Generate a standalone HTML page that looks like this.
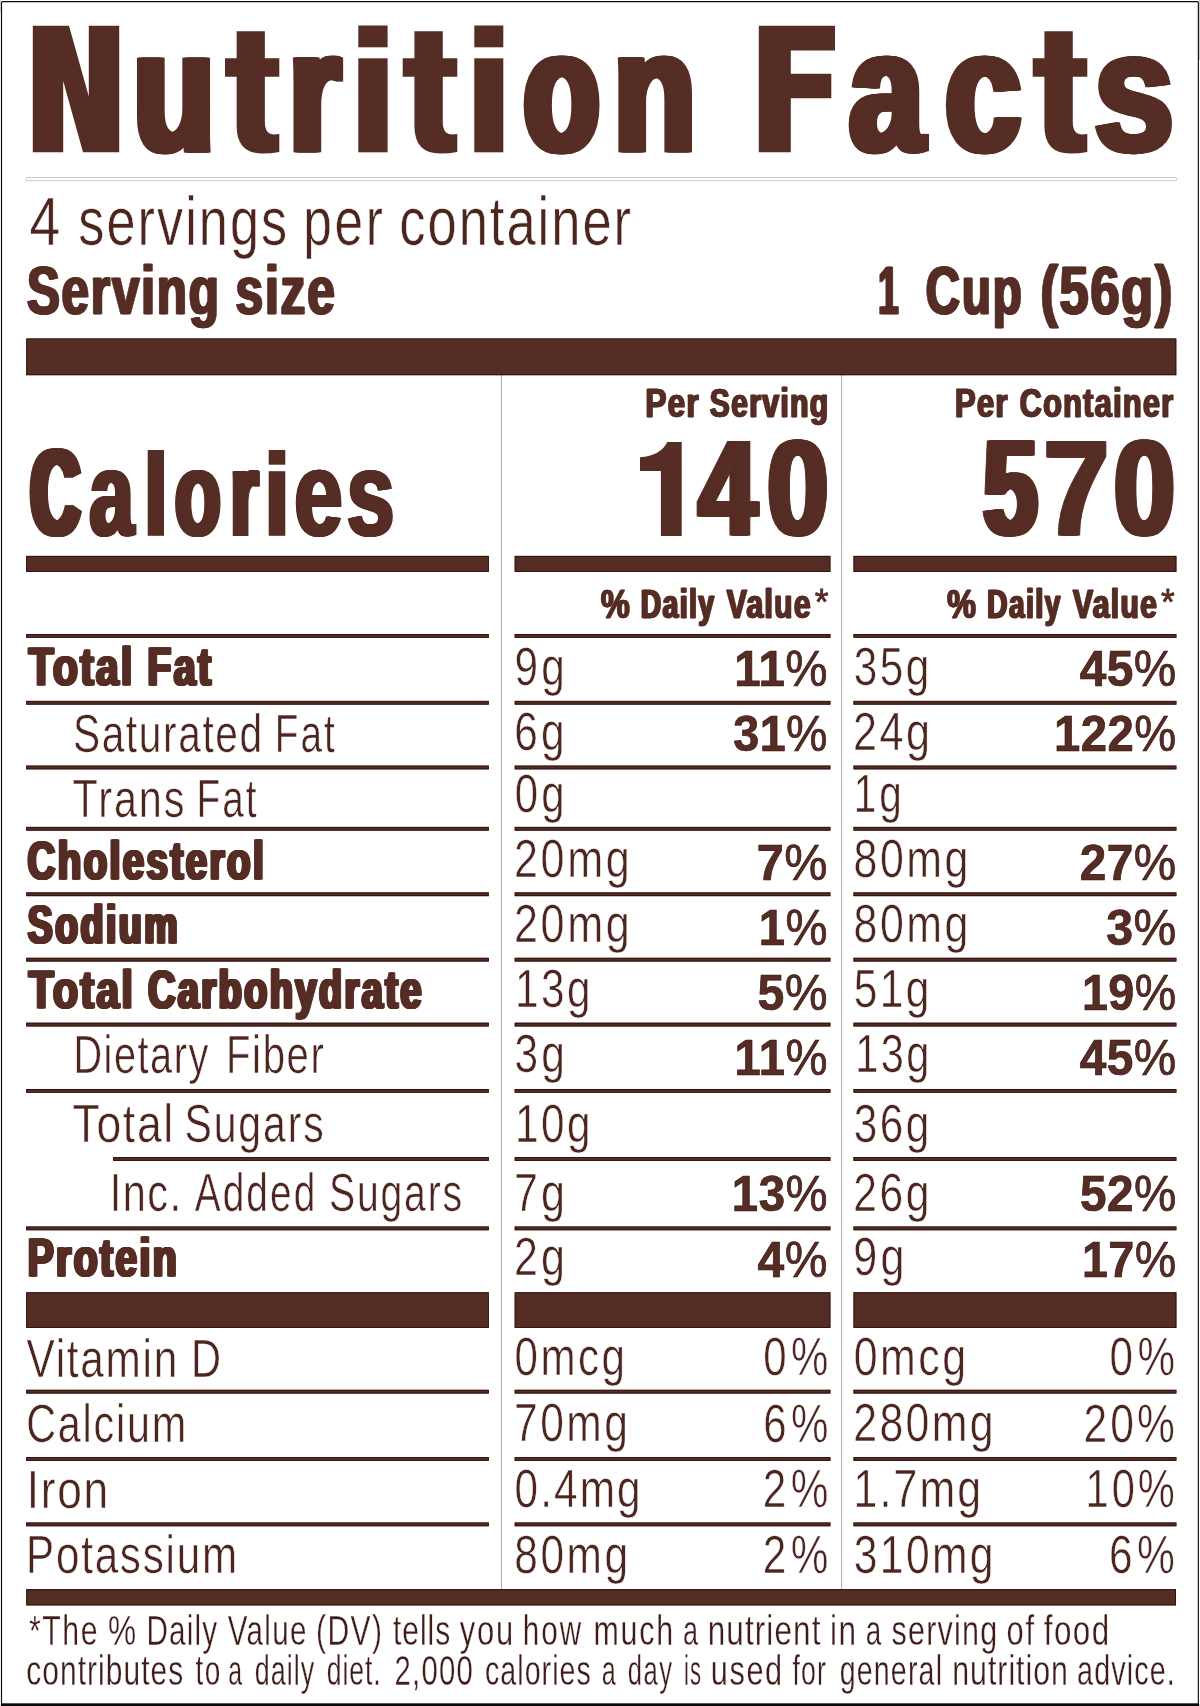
<!DOCTYPE html>
<html><head><meta charset="utf-8"><title>Nutrition Facts</title>
<style>
svg{will-change:transform;}
html,body{margin:0;padding:0;background:#fff;}
body{width:1200px;height:1706px;overflow:hidden;}
svg{display:block;}
text{font-family:"Liberation Sans",sans-serif;fill:#552d24;white-space:pre;}
</style></head><body>
<svg width="1200" height="1706" viewBox="0 0 1200 1706">
<rect x="0" y="0" width="1200" height="1706" fill="#fff"/>
<rect x="1199" y="0" width="1" height="60" fill="#c9c9c9"/>
<rect x="0" y="0" width="1" height="12" fill="#d8d8d8"/>
<rect x="1.5" y="1.55" width="1196.85" height="1702.6" rx="1" fill="none" stroke="#0a0a0a" stroke-width="1.15"/>
<rect x="0.90" y="1703.60" width="1198.30" height="2.40" fill="#0a0a0a"/>
<rect x="25.8" y="177.5" width="1151" height="3.2" rx="1" fill="#fff" stroke="#bcbcbc" stroke-width="0.8"/>
<rect x="501.00" y="375.00" width="0.85" height="1214.30" fill="#a0a0a0"/>
<rect x="841.25" y="375.00" width="0.85" height="1214.30" fill="#a0a0a0"/>
<rect x="26.25" y="338.50" width="1150.05" height="36.70" fill="#552d24"/>
<rect x="26.70" y="338.95" width="1149.15" height="35.80" fill="none" stroke="#2e0f0c" stroke-width="0.9"/>
<rect x="26.20" y="555.90" width="462.60" height="16.00" fill="#552d24"/>
<rect x="26.65" y="556.35" width="461.70" height="15.10" fill="none" stroke="#2e0f0c" stroke-width="0.9"/>
<rect x="514.70" y="555.90" width="315.70" height="16.00" fill="#552d24"/>
<rect x="515.15" y="556.35" width="314.80" height="15.10" fill="none" stroke="#2e0f0c" stroke-width="0.9"/>
<rect x="853.50" y="555.90" width="322.90" height="16.00" fill="#552d24"/>
<rect x="853.95" y="556.35" width="322.00" height="15.10" fill="none" stroke="#2e0f0c" stroke-width="0.9"/>
<rect x="26.20" y="634.00" width="462.60" height="3.75" fill="#552d24"/>
<rect x="26.65" y="634.45" width="461.70" height="2.85" fill="none" stroke="#2e0f0c" stroke-width="0.9"/>
<rect x="514.70" y="634.00" width="315.70" height="3.75" fill="#552d24"/>
<rect x="515.15" y="634.45" width="314.80" height="2.85" fill="none" stroke="#2e0f0c" stroke-width="0.9"/>
<rect x="853.50" y="634.00" width="322.90" height="3.75" fill="#552d24"/>
<rect x="853.95" y="634.45" width="322.00" height="2.85" fill="none" stroke="#2e0f0c" stroke-width="0.9"/>
<rect x="26.20" y="700.90" width="462.60" height="3.75" fill="#552d24"/>
<rect x="26.65" y="701.35" width="461.70" height="2.85" fill="none" stroke="#2e0f0c" stroke-width="0.9"/>
<rect x="514.70" y="700.90" width="315.70" height="3.75" fill="#552d24"/>
<rect x="515.15" y="701.35" width="314.80" height="2.85" fill="none" stroke="#2e0f0c" stroke-width="0.9"/>
<rect x="853.50" y="700.90" width="322.90" height="3.75" fill="#552d24"/>
<rect x="853.95" y="701.35" width="322.00" height="2.85" fill="none" stroke="#2e0f0c" stroke-width="0.9"/>
<rect x="26.20" y="765.60" width="462.60" height="3.75" fill="#552d24"/>
<rect x="26.65" y="766.05" width="461.70" height="2.85" fill="none" stroke="#2e0f0c" stroke-width="0.9"/>
<rect x="514.70" y="765.60" width="315.70" height="3.75" fill="#552d24"/>
<rect x="515.15" y="766.05" width="314.80" height="2.85" fill="none" stroke="#2e0f0c" stroke-width="0.9"/>
<rect x="853.50" y="765.60" width="322.90" height="3.75" fill="#552d24"/>
<rect x="853.95" y="766.05" width="322.00" height="2.85" fill="none" stroke="#2e0f0c" stroke-width="0.9"/>
<rect x="26.20" y="826.90" width="462.60" height="3.75" fill="#552d24"/>
<rect x="26.65" y="827.35" width="461.70" height="2.85" fill="none" stroke="#2e0f0c" stroke-width="0.9"/>
<rect x="514.70" y="826.90" width="315.70" height="3.75" fill="#552d24"/>
<rect x="515.15" y="827.35" width="314.80" height="2.85" fill="none" stroke="#2e0f0c" stroke-width="0.9"/>
<rect x="853.50" y="826.90" width="322.90" height="3.75" fill="#552d24"/>
<rect x="853.95" y="827.35" width="322.00" height="2.85" fill="none" stroke="#2e0f0c" stroke-width="0.9"/>
<rect x="26.20" y="892.40" width="462.60" height="3.75" fill="#552d24"/>
<rect x="26.65" y="892.85" width="461.70" height="2.85" fill="none" stroke="#2e0f0c" stroke-width="0.9"/>
<rect x="514.70" y="892.40" width="315.70" height="3.75" fill="#552d24"/>
<rect x="515.15" y="892.85" width="314.80" height="2.85" fill="none" stroke="#2e0f0c" stroke-width="0.9"/>
<rect x="853.50" y="892.40" width="322.90" height="3.75" fill="#552d24"/>
<rect x="853.95" y="892.85" width="322.00" height="2.85" fill="none" stroke="#2e0f0c" stroke-width="0.9"/>
<rect x="26.20" y="957.80" width="462.60" height="3.75" fill="#552d24"/>
<rect x="26.65" y="958.25" width="461.70" height="2.85" fill="none" stroke="#2e0f0c" stroke-width="0.9"/>
<rect x="514.70" y="957.80" width="315.70" height="3.75" fill="#552d24"/>
<rect x="515.15" y="958.25" width="314.80" height="2.85" fill="none" stroke="#2e0f0c" stroke-width="0.9"/>
<rect x="853.50" y="957.80" width="322.90" height="3.75" fill="#552d24"/>
<rect x="853.95" y="958.25" width="322.00" height="2.85" fill="none" stroke="#2e0f0c" stroke-width="0.9"/>
<rect x="26.20" y="1022.70" width="462.60" height="3.75" fill="#552d24"/>
<rect x="26.65" y="1023.15" width="461.70" height="2.85" fill="none" stroke="#2e0f0c" stroke-width="0.9"/>
<rect x="514.70" y="1022.70" width="315.70" height="3.75" fill="#552d24"/>
<rect x="515.15" y="1023.15" width="314.80" height="2.85" fill="none" stroke="#2e0f0c" stroke-width="0.9"/>
<rect x="853.50" y="1022.70" width="322.90" height="3.75" fill="#552d24"/>
<rect x="853.95" y="1023.15" width="322.00" height="2.85" fill="none" stroke="#2e0f0c" stroke-width="0.9"/>
<rect x="26.20" y="1089.00" width="462.60" height="3.75" fill="#552d24"/>
<rect x="26.65" y="1089.45" width="461.70" height="2.85" fill="none" stroke="#2e0f0c" stroke-width="0.9"/>
<rect x="514.70" y="1089.00" width="315.70" height="3.75" fill="#552d24"/>
<rect x="515.15" y="1089.45" width="314.80" height="2.85" fill="none" stroke="#2e0f0c" stroke-width="0.9"/>
<rect x="853.50" y="1089.00" width="322.90" height="3.75" fill="#552d24"/>
<rect x="853.95" y="1089.45" width="322.00" height="2.85" fill="none" stroke="#2e0f0c" stroke-width="0.9"/>
<rect x="113.10" y="1157.10" width="375.70" height="3.75" fill="#552d24"/>
<rect x="113.55" y="1157.55" width="374.80" height="2.85" fill="none" stroke="#2e0f0c" stroke-width="0.9"/>
<rect x="514.70" y="1157.10" width="315.70" height="3.75" fill="#552d24"/>
<rect x="515.15" y="1157.55" width="314.80" height="2.85" fill="none" stroke="#2e0f0c" stroke-width="0.9"/>
<rect x="853.50" y="1157.10" width="322.90" height="3.75" fill="#552d24"/>
<rect x="853.95" y="1157.55" width="322.00" height="2.85" fill="none" stroke="#2e0f0c" stroke-width="0.9"/>
<rect x="26.20" y="1226.50" width="462.60" height="3.75" fill="#552d24"/>
<rect x="26.65" y="1226.95" width="461.70" height="2.85" fill="none" stroke="#2e0f0c" stroke-width="0.9"/>
<rect x="514.70" y="1226.50" width="315.70" height="3.75" fill="#552d24"/>
<rect x="515.15" y="1226.95" width="314.80" height="2.85" fill="none" stroke="#2e0f0c" stroke-width="0.9"/>
<rect x="853.50" y="1226.50" width="322.90" height="3.75" fill="#552d24"/>
<rect x="853.95" y="1226.95" width="322.00" height="2.85" fill="none" stroke="#2e0f0c" stroke-width="0.9"/>
<rect x="26.20" y="1389.80" width="462.60" height="3.75" fill="#552d24"/>
<rect x="26.65" y="1390.25" width="461.70" height="2.85" fill="none" stroke="#2e0f0c" stroke-width="0.9"/>
<rect x="514.70" y="1389.80" width="315.70" height="3.75" fill="#552d24"/>
<rect x="515.15" y="1390.25" width="314.80" height="2.85" fill="none" stroke="#2e0f0c" stroke-width="0.9"/>
<rect x="853.50" y="1389.80" width="322.90" height="3.75" fill="#552d24"/>
<rect x="853.95" y="1390.25" width="322.00" height="2.85" fill="none" stroke="#2e0f0c" stroke-width="0.9"/>
<rect x="26.20" y="1457.10" width="462.60" height="3.75" fill="#552d24"/>
<rect x="26.65" y="1457.55" width="461.70" height="2.85" fill="none" stroke="#2e0f0c" stroke-width="0.9"/>
<rect x="514.70" y="1457.10" width="315.70" height="3.75" fill="#552d24"/>
<rect x="515.15" y="1457.55" width="314.80" height="2.85" fill="none" stroke="#2e0f0c" stroke-width="0.9"/>
<rect x="853.50" y="1457.10" width="322.90" height="3.75" fill="#552d24"/>
<rect x="853.95" y="1457.55" width="322.00" height="2.85" fill="none" stroke="#2e0f0c" stroke-width="0.9"/>
<rect x="26.20" y="1522.50" width="462.60" height="3.75" fill="#552d24"/>
<rect x="26.65" y="1522.95" width="461.70" height="2.85" fill="none" stroke="#2e0f0c" stroke-width="0.9"/>
<rect x="514.70" y="1522.50" width="315.70" height="3.75" fill="#552d24"/>
<rect x="515.15" y="1522.95" width="314.80" height="2.85" fill="none" stroke="#2e0f0c" stroke-width="0.9"/>
<rect x="853.50" y="1522.50" width="322.90" height="3.75" fill="#552d24"/>
<rect x="853.95" y="1522.95" width="322.00" height="2.85" fill="none" stroke="#2e0f0c" stroke-width="0.9"/>
<rect x="26.20" y="1292.30" width="462.60" height="35.60" fill="#552d24"/>
<rect x="26.65" y="1292.75" width="461.70" height="34.70" fill="none" stroke="#2e0f0c" stroke-width="0.9"/>
<rect x="514.70" y="1292.30" width="315.70" height="35.60" fill="#552d24"/>
<rect x="515.15" y="1292.75" width="314.80" height="34.70" fill="none" stroke="#2e0f0c" stroke-width="0.9"/>
<rect x="853.50" y="1292.30" width="322.90" height="35.60" fill="#552d24"/>
<rect x="853.95" y="1292.75" width="322.00" height="34.70" fill="none" stroke="#2e0f0c" stroke-width="0.9"/>
<rect x="26.25" y="1589.20" width="1149.75" height="16.20" fill="#552d24"/>
<rect x="26.70" y="1589.65" width="1148.85" height="15.30" fill="none" stroke="#2e0f0c" stroke-width="0.9"/>
<path d="M640,457.3 Q661,455.5 667.3,442 L681.7,442 L681.7,535.9 L660.9,535.9 L660.9,470.9 L640,470.9 Z" fill="#552d24"/>
<path transform="translate(225.00,31.20) scale(0.9963,1.0000)" d="M11.7,0 H40 V27.1 H54.5 V45.5 H40 V90.8 Q40,103.3 49.5,103.3 L54.5,102.8 V120.8 Q46.5,122.3 37.5,122.3 Q11.7,122.3 11.7,94.8 V45.5 H0 V27.1 H11.7 Z" fill="#552d24"/>
<rect x="358.30" y="58.30" width="29.30" height="94.00" fill="#552d24"/>
<rect x="358.30" y="25.50" width="29.30" height="21.80" fill="#552d24"/>
<path transform="translate(402.70,31.20) scale(1.0018,1.0000)" d="M11.7,0 H40 V27.1 H54.5 V45.5 H40 V90.8 Q40,103.3 49.5,103.3 L54.5,102.8 V120.8 Q46.5,122.3 37.5,122.3 Q11.7,122.3 11.7,94.8 V45.5 H0 V27.1 H11.7 Z" fill="#552d24"/>
<rect x="474.30" y="58.30" width="29.00" height="94.00" fill="#552d24"/>
<rect x="474.30" y="25.50" width="29.00" height="21.80" fill="#552d24"/>
<path transform="translate(1032.70,31.20) scale(1.0018,1.0000)" d="M11.7,0 H40 V27.1 H54.5 V45.5 H40 V90.8 Q40,103.3 49.5,103.3 L54.5,102.8 V120.8 Q46.5,122.3 37.5,122.3 Q11.7,122.3 11.7,94.8 V45.5 H0 V27.1 H11.7 Z" fill="#552d24"/>
<path d="M32.8,152.3 V25.7 H69 L88.8,96.5 V25.7 H119.2 V152.3 H83 L63.2,81 V152.3 Z" fill="#552d24"/>
<path d="M758.8,152.3 V25.8 H835 V50.5 H790.8 V73.8 H831.3 V98.3 H790.8 V152.3 Z" fill="#552d24"/>
<rect x="147.70" y="450.00" width="16.30" height="85.80" fill="#552d24"/>
<rect x="268.70" y="471.20" width="16.60" height="64.60" fill="#552d24"/>
<rect x="268.70" y="450.00" width="16.60" height="14.70" fill="#552d24"/>
<text transform="translate(130.47,150.30) scale(0.7788,1)" font-weight="bold" font-size="170.35" stroke="#552d24" stroke-width="4" vector-effect="non-scaling-stroke" stroke-linejoin="miter">u</text>
<text transform="translate(131.46,150.30) scale(0.7788,1)" font-weight="bold" font-size="170.35" stroke="#552d24" stroke-width="4" vector-effect="non-scaling-stroke" stroke-linejoin="miter">u</text>
<text transform="translate(132.45,150.30) scale(0.7788,1)" font-weight="bold" font-size="170.35" stroke="#552d24" stroke-width="4" vector-effect="non-scaling-stroke" stroke-linejoin="miter">u</text>
<text transform="translate(133.44,150.30) scale(0.7788,1)" font-weight="bold" font-size="170.35" stroke="#552d24" stroke-width="4" vector-effect="non-scaling-stroke" stroke-linejoin="miter">u</text>
<text transform="translate(134.42,150.30) scale(0.7788,1)" font-weight="bold" font-size="170.35" stroke="#552d24" stroke-width="4" vector-effect="non-scaling-stroke" stroke-linejoin="miter">u</text>
<text transform="translate(135.41,150.30) scale(0.7788,1)" font-weight="bold" font-size="170.35" stroke="#552d24" stroke-width="4" vector-effect="non-scaling-stroke" stroke-linejoin="miter">u</text>
<text transform="translate(136.40,150.30) scale(0.7788,1)" font-weight="bold" font-size="170.35" stroke="#552d24" stroke-width="4" vector-effect="non-scaling-stroke" stroke-linejoin="miter">u</text>
<text transform="translate(286.03,150.30) scale(0.7716,1)" font-weight="bold" font-size="170.35" stroke="#552d24" stroke-width="4" vector-effect="non-scaling-stroke" stroke-linejoin="miter">r</text>
<text transform="translate(287.05,150.30) scale(0.7716,1)" font-weight="bold" font-size="170.35" stroke="#552d24" stroke-width="4" vector-effect="non-scaling-stroke" stroke-linejoin="miter">r</text>
<text transform="translate(288.07,150.30) scale(0.7716,1)" font-weight="bold" font-size="170.35" stroke="#552d24" stroke-width="4" vector-effect="non-scaling-stroke" stroke-linejoin="miter">r</text>
<text transform="translate(289.08,150.30) scale(0.7716,1)" font-weight="bold" font-size="170.35" stroke="#552d24" stroke-width="4" vector-effect="non-scaling-stroke" stroke-linejoin="miter">r</text>
<text transform="translate(290.10,150.30) scale(0.7716,1)" font-weight="bold" font-size="170.35" stroke="#552d24" stroke-width="4" vector-effect="non-scaling-stroke" stroke-linejoin="miter">r</text>
<text transform="translate(291.12,150.30) scale(0.7716,1)" font-weight="bold" font-size="170.35" stroke="#552d24" stroke-width="4" vector-effect="non-scaling-stroke" stroke-linejoin="miter">r</text>
<text transform="translate(292.13,150.30) scale(0.7716,1)" font-weight="bold" font-size="170.35" stroke="#552d24" stroke-width="4" vector-effect="non-scaling-stroke" stroke-linejoin="miter">r</text>
<text transform="translate(520.51,150.30) scale(0.7204,1)" font-weight="bold" font-size="170.35" stroke="#552d24" stroke-width="4" vector-effect="non-scaling-stroke" stroke-linejoin="miter">o</text>
<text transform="translate(521.42,150.30) scale(0.7204,1)" font-weight="bold" font-size="170.35" stroke="#552d24" stroke-width="4" vector-effect="non-scaling-stroke" stroke-linejoin="miter">o</text>
<text transform="translate(522.34,150.30) scale(0.7204,1)" font-weight="bold" font-size="170.35" stroke="#552d24" stroke-width="4" vector-effect="non-scaling-stroke" stroke-linejoin="miter">o</text>
<text transform="translate(523.25,150.30) scale(0.7204,1)" font-weight="bold" font-size="170.35" stroke="#552d24" stroke-width="4" vector-effect="non-scaling-stroke" stroke-linejoin="miter">o</text>
<text transform="translate(524.17,150.30) scale(0.7204,1)" font-weight="bold" font-size="170.35" stroke="#552d24" stroke-width="4" vector-effect="non-scaling-stroke" stroke-linejoin="miter">o</text>
<text transform="translate(525.08,150.30) scale(0.7204,1)" font-weight="bold" font-size="170.35" stroke="#552d24" stroke-width="4" vector-effect="non-scaling-stroke" stroke-linejoin="miter">o</text>
<text transform="translate(525.99,150.30) scale(0.7204,1)" font-weight="bold" font-size="170.35" stroke="#552d24" stroke-width="4" vector-effect="non-scaling-stroke" stroke-linejoin="miter">o</text>
<text transform="translate(526.91,150.30) scale(0.7204,1)" font-weight="bold" font-size="170.35" stroke="#552d24" stroke-width="4" vector-effect="non-scaling-stroke" stroke-linejoin="miter">o</text>
<text transform="translate(527.82,150.30) scale(0.7204,1)" font-weight="bold" font-size="170.35" stroke="#552d24" stroke-width="4" vector-effect="non-scaling-stroke" stroke-linejoin="miter">o</text>
<text transform="translate(610.84,150.30) scale(0.7891,1)" font-weight="bold" font-size="170.35" stroke="#552d24" stroke-width="4" vector-effect="non-scaling-stroke" stroke-linejoin="miter">n</text>
<text transform="translate(611.79,150.30) scale(0.7891,1)" font-weight="bold" font-size="170.35" stroke="#552d24" stroke-width="4" vector-effect="non-scaling-stroke" stroke-linejoin="miter">n</text>
<text transform="translate(612.73,150.30) scale(0.7891,1)" font-weight="bold" font-size="170.35" stroke="#552d24" stroke-width="4" vector-effect="non-scaling-stroke" stroke-linejoin="miter">n</text>
<text transform="translate(613.68,150.30) scale(0.7891,1)" font-weight="bold" font-size="170.35" stroke="#552d24" stroke-width="4" vector-effect="non-scaling-stroke" stroke-linejoin="miter">n</text>
<text transform="translate(614.63,150.30) scale(0.7891,1)" font-weight="bold" font-size="170.35" stroke="#552d24" stroke-width="4" vector-effect="non-scaling-stroke" stroke-linejoin="miter">n</text>
<text transform="translate(615.57,150.30) scale(0.7891,1)" font-weight="bold" font-size="170.35" stroke="#552d24" stroke-width="4" vector-effect="non-scaling-stroke" stroke-linejoin="miter">n</text>
<text transform="translate(616.52,150.30) scale(0.7891,1)" font-weight="bold" font-size="170.35" stroke="#552d24" stroke-width="4" vector-effect="non-scaling-stroke" stroke-linejoin="miter">n</text>
<text transform="translate(846.39,150.30) scale(0.7837,1)" font-weight="bold" font-size="170.35" stroke="#552d24" stroke-width="4" vector-effect="non-scaling-stroke" stroke-linejoin="miter">a</text>
<text transform="translate(847.36,150.30) scale(0.7837,1)" font-weight="bold" font-size="170.35" stroke="#552d24" stroke-width="4" vector-effect="non-scaling-stroke" stroke-linejoin="miter">a</text>
<text transform="translate(848.33,150.30) scale(0.7837,1)" font-weight="bold" font-size="170.35" stroke="#552d24" stroke-width="4" vector-effect="non-scaling-stroke" stroke-linejoin="miter">a</text>
<text transform="translate(849.29,150.30) scale(0.7837,1)" font-weight="bold" font-size="170.35" stroke="#552d24" stroke-width="4" vector-effect="non-scaling-stroke" stroke-linejoin="miter">a</text>
<text transform="translate(850.26,150.30) scale(0.7837,1)" font-weight="bold" font-size="170.35" stroke="#552d24" stroke-width="4" vector-effect="non-scaling-stroke" stroke-linejoin="miter">a</text>
<text transform="translate(851.23,150.30) scale(0.7837,1)" font-weight="bold" font-size="170.35" stroke="#552d24" stroke-width="4" vector-effect="non-scaling-stroke" stroke-linejoin="miter">a</text>
<text transform="translate(852.20,150.30) scale(0.7837,1)" font-weight="bold" font-size="170.35" stroke="#552d24" stroke-width="4" vector-effect="non-scaling-stroke" stroke-linejoin="miter">a</text>
<text transform="translate(942.37,150.30) scale(0.8016,1)" font-weight="bold" font-size="170.35" stroke="#552d24" stroke-width="4" vector-effect="non-scaling-stroke" stroke-linejoin="miter">c</text>
<text transform="translate(943.26,150.30) scale(0.8016,1)" font-weight="bold" font-size="170.35" stroke="#552d24" stroke-width="4" vector-effect="non-scaling-stroke" stroke-linejoin="miter">c</text>
<text transform="translate(944.16,150.30) scale(0.8016,1)" font-weight="bold" font-size="170.35" stroke="#552d24" stroke-width="4" vector-effect="non-scaling-stroke" stroke-linejoin="miter">c</text>
<text transform="translate(945.06,150.30) scale(0.8016,1)" font-weight="bold" font-size="170.35" stroke="#552d24" stroke-width="4" vector-effect="non-scaling-stroke" stroke-linejoin="miter">c</text>
<text transform="translate(945.95,150.30) scale(0.8016,1)" font-weight="bold" font-size="170.35" stroke="#552d24" stroke-width="4" vector-effect="non-scaling-stroke" stroke-linejoin="miter">c</text>
<text transform="translate(946.85,150.30) scale(0.8016,1)" font-weight="bold" font-size="170.35" stroke="#552d24" stroke-width="4" vector-effect="non-scaling-stroke" stroke-linejoin="miter">c</text>
<text transform="translate(947.75,150.30) scale(0.8016,1)" font-weight="bold" font-size="170.35" stroke="#552d24" stroke-width="4" vector-effect="non-scaling-stroke" stroke-linejoin="miter">c</text>
<text transform="translate(1091.95,150.30) scale(0.8425,1)" font-weight="bold" font-size="170.35" stroke="#552d24" stroke-width="4" vector-effect="non-scaling-stroke" stroke-linejoin="miter">s</text>
<text transform="translate(1093.06,150.30) scale(0.8425,1)" font-weight="bold" font-size="170.35" stroke="#552d24" stroke-width="4" vector-effect="non-scaling-stroke" stroke-linejoin="miter">s</text>
<text transform="translate(1094.16,150.30) scale(0.8425,1)" font-weight="bold" font-size="170.35" stroke="#552d24" stroke-width="4" vector-effect="non-scaling-stroke" stroke-linejoin="miter">s</text>
<text transform="translate(1095.26,150.30) scale(0.8425,1)" font-weight="bold" font-size="170.35" stroke="#552d24" stroke-width="4" vector-effect="non-scaling-stroke" stroke-linejoin="miter">s</text>
<text transform="translate(1096.36,150.30) scale(0.8425,1)" font-weight="bold" font-size="170.35" stroke="#552d24" stroke-width="4" vector-effect="non-scaling-stroke" stroke-linejoin="miter">s</text>
<text transform="translate(29.49,244.75) scale(0.7928,1)" font-weight="normal" font-size="69.33" stroke="#fff" stroke-width="0.5" vector-effect="non-scaling-stroke" style="fill:#4b251e">4</text>
<text transform="translate(78.30,244.75) scale(0.7532,1)" font-weight="normal" font-size="69.33" letter-spacing="2.728" stroke="#fff" stroke-width="0.5" vector-effect="non-scaling-stroke" style="fill:#4b251e">servings</text>
<text transform="translate(303.13,244.75) scale(0.7424,1)" font-weight="normal" font-size="69.33" letter-spacing="3.560" stroke="#fff" stroke-width="0.5" vector-effect="non-scaling-stroke" style="fill:#4b251e">per</text>
<text transform="translate(399.22,244.75) scale(0.7570,1)" font-weight="normal" font-size="69.33" letter-spacing="2.645" stroke="#fff" stroke-width="0.5" vector-effect="non-scaling-stroke" style="fill:#4b251e">container</text>
<text transform="translate(25.88,314.40) scale(0.7225,1)" font-weight="bold" font-size="68.32" letter-spacing="2.519" stroke="#552d24" stroke-width="0.6" vector-effect="non-scaling-stroke" stroke-linejoin="miter">Serving</text>
<text transform="translate(26.88,314.40) scale(0.7225,1)" font-weight="bold" font-size="68.32" letter-spacing="2.519" stroke="#552d24" stroke-width="0.6" vector-effect="non-scaling-stroke" stroke-linejoin="miter">Serving</text>
<text transform="translate(27.88,314.40) scale(0.7225,1)" font-weight="bold" font-size="68.32" letter-spacing="2.519" stroke="#552d24" stroke-width="0.6" vector-effect="non-scaling-stroke" stroke-linejoin="miter">Serving</text>
<text transform="translate(234.56,314.40) scale(0.7257,1)" font-weight="bold" font-size="68.32" letter-spacing="2.508" stroke="#552d24" stroke-width="0.6" vector-effect="non-scaling-stroke" stroke-linejoin="miter">size</text>
<text transform="translate(235.56,314.40) scale(0.7257,1)" font-weight="bold" font-size="68.32" letter-spacing="2.508" stroke="#552d24" stroke-width="0.6" vector-effect="non-scaling-stroke" stroke-linejoin="miter">size</text>
<text transform="translate(236.56,314.40) scale(0.7257,1)" font-weight="bold" font-size="68.32" letter-spacing="2.508" stroke="#552d24" stroke-width="0.6" vector-effect="non-scaling-stroke" stroke-linejoin="miter">size</text>
<text transform="translate(877.29,314.30) scale(0.5425,1)" font-weight="bold" font-size="67.73" stroke="#552d24" stroke-width="0.6" vector-effect="non-scaling-stroke" stroke-linejoin="miter">1</text>
<text transform="translate(878.29,314.30) scale(0.5425,1)" font-weight="bold" font-size="67.73" stroke="#552d24" stroke-width="0.6" vector-effect="non-scaling-stroke" stroke-linejoin="miter">1</text>
<text transform="translate(879.29,314.30) scale(0.5425,1)" font-weight="bold" font-size="67.73" stroke="#552d24" stroke-width="0.6" vector-effect="non-scaling-stroke" stroke-linejoin="miter">1</text>
<text transform="translate(924.86,314.30) scale(0.7000,1)" font-weight="bold" font-size="67.73" letter-spacing="2.600" stroke="#552d24" stroke-width="0.6" vector-effect="non-scaling-stroke" stroke-linejoin="miter">Cup</text>
<text transform="translate(925.86,314.30) scale(0.7000,1)" font-weight="bold" font-size="67.73" letter-spacing="2.600" stroke="#552d24" stroke-width="0.6" vector-effect="non-scaling-stroke" stroke-linejoin="miter">Cup</text>
<text transform="translate(926.86,314.30) scale(0.7000,1)" font-weight="bold" font-size="67.73" letter-spacing="2.600" stroke="#552d24" stroke-width="0.6" vector-effect="non-scaling-stroke" stroke-linejoin="miter">Cup</text>
<text transform="translate(1039.40,314.30) scale(0.7702,1)" font-weight="bold" font-size="67.73" letter-spacing="2.363" stroke="#552d24" stroke-width="0.6" vector-effect="non-scaling-stroke" stroke-linejoin="miter">(56g)</text>
<text transform="translate(1040.40,314.30) scale(0.7702,1)" font-weight="bold" font-size="67.73" letter-spacing="2.363" stroke="#552d24" stroke-width="0.6" vector-effect="non-scaling-stroke" stroke-linejoin="miter">(56g)</text>
<text transform="translate(1041.40,314.30) scale(0.7702,1)" font-weight="bold" font-size="67.73" letter-spacing="2.363" stroke="#552d24" stroke-width="0.6" vector-effect="non-scaling-stroke" stroke-linejoin="miter">(56g)</text>
<text transform="translate(644.73,416.65) scale(0.7932,1)" font-weight="bold" font-size="39.97" letter-spacing="1.462" stroke="#552d24" stroke-width="0.5" vector-effect="non-scaling-stroke" stroke-linejoin="miter">Per</text>
<text transform="translate(645.31,416.65) scale(0.7932,1)" font-weight="bold" font-size="39.97" letter-spacing="1.462" stroke="#552d24" stroke-width="0.5" vector-effect="non-scaling-stroke" stroke-linejoin="miter">Per</text>
<text transform="translate(645.89,416.65) scale(0.7932,1)" font-weight="bold" font-size="39.97" letter-spacing="1.462" stroke="#552d24" stroke-width="0.5" vector-effect="non-scaling-stroke" stroke-linejoin="miter">Per</text>
<text transform="translate(708.98,416.65) scale(0.7559,1)" font-weight="bold" font-size="39.97" letter-spacing="1.723" stroke="#552d24" stroke-width="0.5" vector-effect="non-scaling-stroke" stroke-linejoin="miter">Serving</text>
<text transform="translate(709.66,416.65) scale(0.7559,1)" font-weight="bold" font-size="39.97" letter-spacing="1.723" stroke="#552d24" stroke-width="0.5" vector-effect="non-scaling-stroke" stroke-linejoin="miter">Serving</text>
<text transform="translate(710.34,416.65) scale(0.7559,1)" font-weight="bold" font-size="39.97" letter-spacing="1.723" stroke="#552d24" stroke-width="0.5" vector-effect="non-scaling-stroke" stroke-linejoin="miter">Serving</text>
<text transform="translate(954.37,416.65) scale(0.7787,1)" font-weight="bold" font-size="39.97" letter-spacing="1.561" stroke="#552d24" stroke-width="0.5" vector-effect="non-scaling-stroke" stroke-linejoin="miter">Per</text>
<text transform="translate(954.99,416.65) scale(0.7787,1)" font-weight="bold" font-size="39.97" letter-spacing="1.561" stroke="#552d24" stroke-width="0.5" vector-effect="non-scaling-stroke" stroke-linejoin="miter">Per</text>
<text transform="translate(955.60,416.65) scale(0.7787,1)" font-weight="bold" font-size="39.97" letter-spacing="1.561" stroke="#552d24" stroke-width="0.5" vector-effect="non-scaling-stroke" stroke-linejoin="miter">Per</text>
<text transform="translate(1018.99,416.65) scale(0.7701,1)" font-weight="bold" font-size="39.97" letter-spacing="1.620" stroke="#552d24" stroke-width="0.5" vector-effect="non-scaling-stroke" stroke-linejoin="miter">Container</text>
<text transform="translate(1019.63,416.65) scale(0.7701,1)" font-weight="bold" font-size="39.97" letter-spacing="1.620" stroke="#552d24" stroke-width="0.5" vector-effect="non-scaling-stroke" stroke-linejoin="miter">Container</text>
<text transform="translate(1020.27,416.65) scale(0.7701,1)" font-weight="bold" font-size="39.97" letter-spacing="1.620" stroke="#552d24" stroke-width="0.5" vector-effect="non-scaling-stroke" stroke-linejoin="miter">Container</text>
<text transform="translate(27.31,535.05) scale(0.5453,1)" font-weight="bold" font-size="122.53" stroke="#552d24" stroke-width="1.5" vector-effect="non-scaling-stroke" stroke-linejoin="miter">C</text>
<text transform="translate(28.29,535.05) scale(0.5453,1)" font-weight="bold" font-size="122.53" stroke="#552d24" stroke-width="1.5" vector-effect="non-scaling-stroke" stroke-linejoin="miter">C</text>
<text transform="translate(29.26,535.05) scale(0.5453,1)" font-weight="bold" font-size="122.53" stroke="#552d24" stroke-width="1.5" vector-effect="non-scaling-stroke" stroke-linejoin="miter">C</text>
<text transform="translate(30.24,535.05) scale(0.5453,1)" font-weight="bold" font-size="122.53" stroke="#552d24" stroke-width="1.5" vector-effect="non-scaling-stroke" stroke-linejoin="miter">C</text>
<text transform="translate(31.22,535.05) scale(0.5453,1)" font-weight="bold" font-size="122.53" stroke="#552d24" stroke-width="1.5" vector-effect="non-scaling-stroke" stroke-linejoin="miter">C</text>
<text transform="translate(32.19,535.05) scale(0.5453,1)" font-weight="bold" font-size="122.53" stroke="#552d24" stroke-width="1.5" vector-effect="non-scaling-stroke" stroke-linejoin="miter">C</text>
<text transform="translate(33.17,535.05) scale(0.5453,1)" font-weight="bold" font-size="122.53" stroke="#552d24" stroke-width="1.5" vector-effect="non-scaling-stroke" stroke-linejoin="miter">C</text>
<text transform="translate(34.15,535.05) scale(0.5453,1)" font-weight="bold" font-size="122.53" stroke="#552d24" stroke-width="1.5" vector-effect="non-scaling-stroke" stroke-linejoin="miter">C</text>
<text transform="translate(35.12,535.05) scale(0.5453,1)" font-weight="bold" font-size="122.53" stroke="#552d24" stroke-width="1.5" vector-effect="non-scaling-stroke" stroke-linejoin="miter">C</text>
<text transform="translate(87.73,535.05) scale(0.6644,1)" font-weight="bold" font-size="119.44" stroke="#552d24" stroke-width="1.5" vector-effect="non-scaling-stroke" stroke-linejoin="miter">a</text>
<text transform="translate(88.62,535.05) scale(0.6644,1)" font-weight="bold" font-size="119.44" stroke="#552d24" stroke-width="1.5" vector-effect="non-scaling-stroke" stroke-linejoin="miter">a</text>
<text transform="translate(89.52,535.05) scale(0.6644,1)" font-weight="bold" font-size="119.44" stroke="#552d24" stroke-width="1.5" vector-effect="non-scaling-stroke" stroke-linejoin="miter">a</text>
<text transform="translate(90.42,535.05) scale(0.6644,1)" font-weight="bold" font-size="119.44" stroke="#552d24" stroke-width="1.5" vector-effect="non-scaling-stroke" stroke-linejoin="miter">a</text>
<text transform="translate(91.32,535.05) scale(0.6644,1)" font-weight="bold" font-size="119.44" stroke="#552d24" stroke-width="1.5" vector-effect="non-scaling-stroke" stroke-linejoin="miter">a</text>
<text transform="translate(172.82,535.05) scale(0.6290,1)" font-weight="bold" font-size="119.44" stroke="#552d24" stroke-width="1.5" vector-effect="non-scaling-stroke" stroke-linejoin="miter">o</text>
<text transform="translate(173.86,535.05) scale(0.6290,1)" font-weight="bold" font-size="119.44" stroke="#552d24" stroke-width="1.5" vector-effect="non-scaling-stroke" stroke-linejoin="miter">o</text>
<text transform="translate(174.91,535.05) scale(0.6290,1)" font-weight="bold" font-size="119.44" stroke="#552d24" stroke-width="1.5" vector-effect="non-scaling-stroke" stroke-linejoin="miter">o</text>
<text transform="translate(175.95,535.05) scale(0.6290,1)" font-weight="bold" font-size="119.44" stroke="#552d24" stroke-width="1.5" vector-effect="non-scaling-stroke" stroke-linejoin="miter">o</text>
<text transform="translate(177.00,535.05) scale(0.6290,1)" font-weight="bold" font-size="119.44" stroke="#552d24" stroke-width="1.5" vector-effect="non-scaling-stroke" stroke-linejoin="miter">o</text>
<text transform="translate(228.54,535.05) scale(0.5726,1)" font-weight="bold" font-size="119.44" stroke="#552d24" stroke-width="1.5" vector-effect="non-scaling-stroke" stroke-linejoin="miter">r</text>
<text transform="translate(229.40,535.05) scale(0.5726,1)" font-weight="bold" font-size="119.44" stroke="#552d24" stroke-width="1.5" vector-effect="non-scaling-stroke" stroke-linejoin="miter">r</text>
<text transform="translate(230.25,535.05) scale(0.5726,1)" font-weight="bold" font-size="119.44" stroke="#552d24" stroke-width="1.5" vector-effect="non-scaling-stroke" stroke-linejoin="miter">r</text>
<text transform="translate(231.10,535.05) scale(0.5726,1)" font-weight="bold" font-size="119.44" stroke="#552d24" stroke-width="1.5" vector-effect="non-scaling-stroke" stroke-linejoin="miter">r</text>
<text transform="translate(231.96,535.05) scale(0.5726,1)" font-weight="bold" font-size="119.44" stroke="#552d24" stroke-width="1.5" vector-effect="non-scaling-stroke" stroke-linejoin="miter">r</text>
<text transform="translate(232.81,535.05) scale(0.5726,1)" font-weight="bold" font-size="119.44" stroke="#552d24" stroke-width="1.5" vector-effect="non-scaling-stroke" stroke-linejoin="miter">r</text>
<text transform="translate(233.67,535.05) scale(0.5726,1)" font-weight="bold" font-size="119.44" stroke="#552d24" stroke-width="1.5" vector-effect="non-scaling-stroke" stroke-linejoin="miter">r</text>
<text transform="translate(293.06,535.05) scale(0.7277,1)" font-weight="bold" font-size="119.44" stroke="#552d24" stroke-width="1.5" vector-effect="non-scaling-stroke" stroke-linejoin="miter">e</text>
<text transform="translate(293.69,535.05) scale(0.7277,1)" font-weight="bold" font-size="119.44" stroke="#552d24" stroke-width="1.5" vector-effect="non-scaling-stroke" stroke-linejoin="miter">e</text>
<text transform="translate(294.32,535.05) scale(0.7277,1)" font-weight="bold" font-size="119.44" stroke="#552d24" stroke-width="1.5" vector-effect="non-scaling-stroke" stroke-linejoin="miter">e</text>
<text transform="translate(294.95,535.05) scale(0.7277,1)" font-weight="bold" font-size="119.44" stroke="#552d24" stroke-width="1.5" vector-effect="non-scaling-stroke" stroke-linejoin="miter">e</text>
<text transform="translate(295.59,535.05) scale(0.7277,1)" font-weight="bold" font-size="119.44" stroke="#552d24" stroke-width="1.5" vector-effect="non-scaling-stroke" stroke-linejoin="miter">e</text>
<text transform="translate(345.45,535.05) scale(0.7142,1)" font-weight="bold" font-size="119.44" stroke="#552d24" stroke-width="1.5" vector-effect="non-scaling-stroke" stroke-linejoin="miter">s</text>
<text transform="translate(346.14,535.05) scale(0.7142,1)" font-weight="bold" font-size="119.44" stroke="#552d24" stroke-width="1.5" vector-effect="non-scaling-stroke" stroke-linejoin="miter">s</text>
<text transform="translate(346.83,535.05) scale(0.7142,1)" font-weight="bold" font-size="119.44" stroke="#552d24" stroke-width="1.5" vector-effect="non-scaling-stroke" stroke-linejoin="miter">s</text>
<text transform="translate(347.52,535.05) scale(0.7142,1)" font-weight="bold" font-size="119.44" stroke="#552d24" stroke-width="1.5" vector-effect="non-scaling-stroke" stroke-linejoin="miter">s</text>
<text transform="translate(348.21,535.05) scale(0.7142,1)" font-weight="bold" font-size="119.44" stroke="#552d24" stroke-width="1.5" vector-effect="non-scaling-stroke" stroke-linejoin="miter">s</text>
<text transform="translate(695.61,535.40) scale(0.7774,1)" font-weight="bold" font-size="134.89" stroke="#552d24" stroke-width="1" vector-effect="non-scaling-stroke" stroke-linejoin="miter">4</text>
<text transform="translate(696.64,535.40) scale(0.7774,1)" font-weight="bold" font-size="134.89" stroke="#552d24" stroke-width="1" vector-effect="non-scaling-stroke" stroke-linejoin="miter">4</text>
<text transform="translate(697.66,535.40) scale(0.7774,1)" font-weight="bold" font-size="134.89" stroke="#552d24" stroke-width="1" vector-effect="non-scaling-stroke" stroke-linejoin="miter">4</text>
<text transform="translate(698.68,535.40) scale(0.7774,1)" font-weight="bold" font-size="134.89" stroke="#552d24" stroke-width="1" vector-effect="non-scaling-stroke" stroke-linejoin="miter">4</text>
<text transform="translate(699.70,535.40) scale(0.7774,1)" font-weight="bold" font-size="134.89" stroke="#552d24" stroke-width="1" vector-effect="non-scaling-stroke" stroke-linejoin="miter">4</text>
<text transform="translate(700.72,535.40) scale(0.7774,1)" font-weight="bold" font-size="134.89" stroke="#552d24" stroke-width="1" vector-effect="non-scaling-stroke" stroke-linejoin="miter">4</text>
<text transform="translate(701.75,535.40) scale(0.7774,1)" font-weight="bold" font-size="134.89" stroke="#552d24" stroke-width="1" vector-effect="non-scaling-stroke" stroke-linejoin="miter">4</text>
<text transform="translate(764.45,535.40) scale(0.8146,1)" font-weight="bold" font-size="134.89" stroke="#552d24" stroke-width="1" vector-effect="non-scaling-stroke" stroke-linejoin="miter">0</text>
<text transform="translate(765.36,535.40) scale(0.8146,1)" font-weight="bold" font-size="134.89" stroke="#552d24" stroke-width="1" vector-effect="non-scaling-stroke" stroke-linejoin="miter">0</text>
<text transform="translate(766.27,535.40) scale(0.8146,1)" font-weight="bold" font-size="134.89" stroke="#552d24" stroke-width="1" vector-effect="non-scaling-stroke" stroke-linejoin="miter">0</text>
<text transform="translate(767.18,535.40) scale(0.8146,1)" font-weight="bold" font-size="134.89" stroke="#552d24" stroke-width="1" vector-effect="non-scaling-stroke" stroke-linejoin="miter">0</text>
<text transform="translate(768.09,535.40) scale(0.8146,1)" font-weight="bold" font-size="134.89" stroke="#552d24" stroke-width="1" vector-effect="non-scaling-stroke" stroke-linejoin="miter">0</text>
<text transform="translate(768.99,535.40) scale(0.8146,1)" font-weight="bold" font-size="134.89" stroke="#552d24" stroke-width="1" vector-effect="non-scaling-stroke" stroke-linejoin="miter">0</text>
<text transform="translate(769.90,535.40) scale(0.8146,1)" font-weight="bold" font-size="134.89" stroke="#552d24" stroke-width="1" vector-effect="non-scaling-stroke" stroke-linejoin="miter">0</text>
<text transform="translate(980.04,535.40) scale(0.7145,1)" font-weight="bold" font-size="134.89" stroke="#552d24" stroke-width="1" vector-effect="non-scaling-stroke" stroke-linejoin="miter">5</text>
<text transform="translate(980.95,535.40) scale(0.7145,1)" font-weight="bold" font-size="134.89" stroke="#552d24" stroke-width="1" vector-effect="non-scaling-stroke" stroke-linejoin="miter">5</text>
<text transform="translate(981.86,535.40) scale(0.7145,1)" font-weight="bold" font-size="134.89" stroke="#552d24" stroke-width="1" vector-effect="non-scaling-stroke" stroke-linejoin="miter">5</text>
<text transform="translate(982.77,535.40) scale(0.7145,1)" font-weight="bold" font-size="134.89" stroke="#552d24" stroke-width="1" vector-effect="non-scaling-stroke" stroke-linejoin="miter">5</text>
<text transform="translate(983.68,535.40) scale(0.7145,1)" font-weight="bold" font-size="134.89" stroke="#552d24" stroke-width="1" vector-effect="non-scaling-stroke" stroke-linejoin="miter">5</text>
<text transform="translate(984.59,535.40) scale(0.7145,1)" font-weight="bold" font-size="134.89" stroke="#552d24" stroke-width="1" vector-effect="non-scaling-stroke" stroke-linejoin="miter">5</text>
<text transform="translate(985.51,535.40) scale(0.7145,1)" font-weight="bold" font-size="134.89" stroke="#552d24" stroke-width="1" vector-effect="non-scaling-stroke" stroke-linejoin="miter">5</text>
<text transform="translate(986.42,535.40) scale(0.7145,1)" font-weight="bold" font-size="134.89" stroke="#552d24" stroke-width="1" vector-effect="non-scaling-stroke" stroke-linejoin="miter">5</text>
<text transform="translate(987.33,535.40) scale(0.7145,1)" font-weight="bold" font-size="134.89" stroke="#552d24" stroke-width="1" vector-effect="non-scaling-stroke" stroke-linejoin="miter">5</text>
<text transform="translate(1041.77,535.40) scale(0.8591,1)" font-weight="bold" font-size="134.89" stroke="#552d24" stroke-width="1" vector-effect="non-scaling-stroke" stroke-linejoin="miter">7</text>
<text transform="translate(1042.93,535.40) scale(0.8591,1)" font-weight="bold" font-size="134.89" stroke="#552d24" stroke-width="1" vector-effect="non-scaling-stroke" stroke-linejoin="miter">7</text>
<text transform="translate(1044.08,535.40) scale(0.8591,1)" font-weight="bold" font-size="134.89" stroke="#552d24" stroke-width="1" vector-effect="non-scaling-stroke" stroke-linejoin="miter">7</text>
<text transform="translate(1045.24,535.40) scale(0.8591,1)" font-weight="bold" font-size="134.89" stroke="#552d24" stroke-width="1" vector-effect="non-scaling-stroke" stroke-linejoin="miter">7</text>
<text transform="translate(1046.39,535.40) scale(0.8591,1)" font-weight="bold" font-size="134.89" stroke="#552d24" stroke-width="1" vector-effect="non-scaling-stroke" stroke-linejoin="miter">7</text>
<text transform="translate(1111.15,535.40) scale(0.8157,1)" font-weight="bold" font-size="134.89" stroke="#552d24" stroke-width="1" vector-effect="non-scaling-stroke" stroke-linejoin="miter">0</text>
<text transform="translate(1112.05,535.40) scale(0.8157,1)" font-weight="bold" font-size="134.89" stroke="#552d24" stroke-width="1" vector-effect="non-scaling-stroke" stroke-linejoin="miter">0</text>
<text transform="translate(1112.96,535.40) scale(0.8157,1)" font-weight="bold" font-size="134.89" stroke="#552d24" stroke-width="1" vector-effect="non-scaling-stroke" stroke-linejoin="miter">0</text>
<text transform="translate(1113.86,535.40) scale(0.8157,1)" font-weight="bold" font-size="134.89" stroke="#552d24" stroke-width="1" vector-effect="non-scaling-stroke" stroke-linejoin="miter">0</text>
<text transform="translate(1114.77,535.40) scale(0.8157,1)" font-weight="bold" font-size="134.89" stroke="#552d24" stroke-width="1" vector-effect="non-scaling-stroke" stroke-linejoin="miter">0</text>
<text transform="translate(1115.67,535.40) scale(0.8157,1)" font-weight="bold" font-size="134.89" stroke="#552d24" stroke-width="1" vector-effect="non-scaling-stroke" stroke-linejoin="miter">0</text>
<text transform="translate(1116.58,535.40) scale(0.8157,1)" font-weight="bold" font-size="134.89" stroke="#552d24" stroke-width="1" vector-effect="non-scaling-stroke" stroke-linejoin="miter">0</text>
<text transform="translate(600.14,617.55) scale(0.8127,1)" font-weight="bold" font-size="39.97" stroke="#552d24" stroke-width="0.5" vector-effect="non-scaling-stroke" stroke-linejoin="miter">%</text>
<text transform="translate(600.78,617.55) scale(0.8127,1)" font-weight="bold" font-size="39.97" stroke="#552d24" stroke-width="0.5" vector-effect="non-scaling-stroke" stroke-linejoin="miter">%</text>
<text transform="translate(601.42,617.55) scale(0.8127,1)" font-weight="bold" font-size="39.97" stroke="#552d24" stroke-width="0.5" vector-effect="non-scaling-stroke" stroke-linejoin="miter">%</text>
<text transform="translate(640.07,617.55) scale(0.7030,1)" font-weight="bold" font-size="39.97" letter-spacing="2.141" stroke="#552d24" stroke-width="0.5" vector-effect="non-scaling-stroke" stroke-linejoin="miter">Daily</text>
<text transform="translate(640.90,617.55) scale(0.7030,1)" font-weight="bold" font-size="39.97" letter-spacing="2.141" stroke="#552d24" stroke-width="0.5" vector-effect="non-scaling-stroke" stroke-linejoin="miter">Daily</text>
<text transform="translate(641.72,617.55) scale(0.7030,1)" font-weight="bold" font-size="39.97" letter-spacing="2.141" stroke="#552d24" stroke-width="0.5" vector-effect="non-scaling-stroke" stroke-linejoin="miter">Daily</text>
<text transform="translate(726.04,617.55) scale(0.7525,1)" font-weight="bold" font-size="39.97" letter-spacing="1.748" stroke="#552d24" stroke-width="0.5" vector-effect="non-scaling-stroke" stroke-linejoin="miter">Value</text>
<text transform="translate(726.73,617.55) scale(0.7525,1)" font-weight="bold" font-size="39.97" letter-spacing="1.748" stroke="#552d24" stroke-width="0.5" vector-effect="non-scaling-stroke" stroke-linejoin="miter">Value</text>
<text transform="translate(727.42,617.55) scale(0.7525,1)" font-weight="bold" font-size="39.97" letter-spacing="1.748" stroke="#552d24" stroke-width="0.5" vector-effect="non-scaling-stroke" stroke-linejoin="miter">Value</text>
<text transform="translate(814.63,615.20) scale(0.9596,1)" font-weight="normal" font-size="36.73" stroke="#552d24" stroke-width="0.8" vector-effect="non-scaling-stroke" stroke-linejoin="miter">*</text>
<text transform="translate(946.44,617.55) scale(0.8127,1)" font-weight="bold" font-size="39.97" stroke="#552d24" stroke-width="0.5" vector-effect="non-scaling-stroke" stroke-linejoin="miter">%</text>
<text transform="translate(947.08,617.55) scale(0.8127,1)" font-weight="bold" font-size="39.97" stroke="#552d24" stroke-width="0.5" vector-effect="non-scaling-stroke" stroke-linejoin="miter">%</text>
<text transform="translate(947.72,617.55) scale(0.8127,1)" font-weight="bold" font-size="39.97" stroke="#552d24" stroke-width="0.5" vector-effect="non-scaling-stroke" stroke-linejoin="miter">%</text>
<text transform="translate(986.37,617.55) scale(0.7030,1)" font-weight="bold" font-size="39.97" letter-spacing="2.141" stroke="#552d24" stroke-width="0.5" vector-effect="non-scaling-stroke" stroke-linejoin="miter">Daily</text>
<text transform="translate(987.20,617.55) scale(0.7030,1)" font-weight="bold" font-size="39.97" letter-spacing="2.141" stroke="#552d24" stroke-width="0.5" vector-effect="non-scaling-stroke" stroke-linejoin="miter">Daily</text>
<text transform="translate(988.02,617.55) scale(0.7030,1)" font-weight="bold" font-size="39.97" letter-spacing="2.141" stroke="#552d24" stroke-width="0.5" vector-effect="non-scaling-stroke" stroke-linejoin="miter">Daily</text>
<text transform="translate(1072.34,617.55) scale(0.7525,1)" font-weight="bold" font-size="39.97" letter-spacing="1.748" stroke="#552d24" stroke-width="0.5" vector-effect="non-scaling-stroke" stroke-linejoin="miter">Value</text>
<text transform="translate(1073.03,617.55) scale(0.7525,1)" font-weight="bold" font-size="39.97" letter-spacing="1.748" stroke="#552d24" stroke-width="0.5" vector-effect="non-scaling-stroke" stroke-linejoin="miter">Value</text>
<text transform="translate(1073.72,617.55) scale(0.7525,1)" font-weight="bold" font-size="39.97" letter-spacing="1.748" stroke="#552d24" stroke-width="0.5" vector-effect="non-scaling-stroke" stroke-linejoin="miter">Value</text>
<text transform="translate(1160.93,615.20) scale(0.9596,1)" font-weight="normal" font-size="36.73" stroke="#552d24" stroke-width="0.8" vector-effect="non-scaling-stroke" stroke-linejoin="miter">*</text>
<text transform="translate(27.54,685.10) scale(0.7715,1)" font-weight="bold" font-size="53.05" letter-spacing="2.897" stroke="#552d24" stroke-width="1.0" vector-effect="non-scaling-stroke" stroke-linejoin="miter">Total</text>
<text transform="translate(28.64,685.10) scale(0.7715,1)" font-weight="bold" font-size="53.05" letter-spacing="2.897" stroke="#552d24" stroke-width="1.0" vector-effect="non-scaling-stroke" stroke-linejoin="miter">Total</text>
<text transform="translate(29.73,685.10) scale(0.7715,1)" font-weight="bold" font-size="53.05" letter-spacing="2.897" stroke="#552d24" stroke-width="1.0" vector-effect="non-scaling-stroke" stroke-linejoin="miter">Total</text>
<text transform="translate(146.17,685.10) scale(0.7401,1)" font-weight="bold" font-size="53.05" letter-spacing="3.235" stroke="#552d24" stroke-width="1.0" vector-effect="non-scaling-stroke" stroke-linejoin="miter">Fat</text>
<text transform="translate(146.78,685.10) scale(0.7401,1)" font-weight="bold" font-size="53.05" letter-spacing="3.235" stroke="#552d24" stroke-width="1.0" vector-effect="non-scaling-stroke" stroke-linejoin="miter">Fat</text>
<text transform="translate(147.38,685.10) scale(0.7401,1)" font-weight="bold" font-size="53.05" letter-spacing="3.235" stroke="#552d24" stroke-width="1.0" vector-effect="non-scaling-stroke" stroke-linejoin="miter">Fat</text>
<text transform="translate(147.99,685.10) scale(0.7401,1)" font-weight="bold" font-size="53.05" letter-spacing="3.235" stroke="#552d24" stroke-width="1.0" vector-effect="non-scaling-stroke" stroke-linejoin="miter">Fat</text>
<text transform="translate(148.59,685.10) scale(0.7401,1)" font-weight="bold" font-size="53.05" letter-spacing="3.235" stroke="#552d24" stroke-width="1.0" vector-effect="non-scaling-stroke" stroke-linejoin="miter">Fat</text>
<text transform="translate(514.47,685.25) scale(0.7862,1)" font-weight="normal" font-size="53.78" letter-spacing="4.051" stroke="#fff" stroke-width="0.5" vector-effect="non-scaling-stroke" style="fill:#4b251e">9g</text>
<text transform="translate(853.64,685.25) scale(0.7864,1)" font-weight="normal" font-size="53.78" letter-spacing="3.169" stroke="#fff" stroke-width="0.5" vector-effect="non-scaling-stroke" style="fill:#4b251e">35g</text>
<text transform="translate(734.16,686.15) scale(0.9467,1)" font-weight="bold" font-size="50.15" letter-spacing="0.518" stroke="#3a1512" stroke-width="0.7" vector-effect="non-scaling-stroke" stroke-linejoin="miter">11<tspan font-weight="normal">%</tspan></text>
<text transform="translate(1079.63,686.15) scale(0.9539,1)" font-weight="bold" font-size="50.15" letter-spacing="0.514" stroke="#3a1512" stroke-width="0.7" vector-effect="non-scaling-stroke" stroke-linejoin="miter">45<tspan font-weight="normal">%</tspan></text>
<text transform="translate(72.90,752.25) scale(0.7461,1)" font-weight="normal" font-size="54.51" letter-spacing="2.167" stroke="#fff" stroke-width="0.5" vector-effect="non-scaling-stroke" style="fill:#4b251e">Saturated</text>
<text transform="translate(274.87,752.25) scale(0.7112,1)" font-weight="normal" font-size="54.51" letter-spacing="2.780" stroke="#fff" stroke-width="0.5" vector-effect="non-scaling-stroke" style="fill:#4b251e">Fat</text>
<text transform="translate(514.29,750.25) scale(0.7892,1)" font-weight="normal" font-size="53.78" letter-spacing="4.036" stroke="#fff" stroke-width="0.5" vector-effect="non-scaling-stroke" style="fill:#4b251e">6g</text>
<text transform="translate(853.08,750.25) scale(0.8015,1)" font-weight="normal" font-size="53.78" letter-spacing="3.144" stroke="#fff" stroke-width="0.5" vector-effect="non-scaling-stroke" style="fill:#4b251e">24g</text>
<text transform="translate(733.28,750.95) scale(0.9291,1)" font-weight="bold" font-size="50.15" letter-spacing="0.527" stroke="#3a1512" stroke-width="0.7" vector-effect="non-scaling-stroke" stroke-linejoin="miter">31<tspan font-weight="normal">%</tspan></text>
<text transform="translate(1053.97,750.95) scale(0.9427,1)" font-weight="bold" font-size="50.15" letter-spacing="0.520" stroke="#3a1512" stroke-width="0.7" vector-effect="non-scaling-stroke" stroke-linejoin="miter">122<tspan font-weight="normal">%</tspan></text>
<text transform="translate(72.57,817.05) scale(0.7590,1)" font-weight="normal" font-size="54.51" letter-spacing="2.523" stroke="#fff" stroke-width="0.5" vector-effect="non-scaling-stroke" style="fill:#4b251e">Trans</text>
<text transform="translate(196.57,817.05) scale(0.7112,1)" font-weight="normal" font-size="54.51" letter-spacing="2.780" stroke="#fff" stroke-width="0.5" vector-effect="non-scaling-stroke" style="fill:#4b251e">Fat</text>
<text transform="translate(514.81,811.95) scale(0.7801,1)" font-weight="normal" font-size="53.78" letter-spacing="4.083" stroke="#fff" stroke-width="0.5" vector-effect="non-scaling-stroke" style="fill:#4b251e">0g</text>
<text transform="translate(853.67,811.95) scale(0.7529,1)" font-weight="normal" font-size="53.78" letter-spacing="3.933" stroke="#fff" stroke-width="0.5" vector-effect="non-scaling-stroke" style="fill:#4b251e">1g</text>
<text transform="translate(26.22,879.00) scale(0.7245,1)" font-weight="bold" font-size="53.05" letter-spacing="3.414" stroke="#552d24" stroke-width="1.0" vector-effect="non-scaling-stroke" stroke-linejoin="miter">Cholesterol</text>
<text transform="translate(26.86,879.00) scale(0.7245,1)" font-weight="bold" font-size="53.05" letter-spacing="3.414" stroke="#552d24" stroke-width="1.0" vector-effect="non-scaling-stroke" stroke-linejoin="miter">Cholesterol</text>
<text transform="translate(27.49,879.00) scale(0.7245,1)" font-weight="bold" font-size="53.05" letter-spacing="3.414" stroke="#552d24" stroke-width="1.0" vector-effect="non-scaling-stroke" stroke-linejoin="miter">Cholesterol</text>
<text transform="translate(28.12,879.00) scale(0.7245,1)" font-weight="bold" font-size="53.05" letter-spacing="3.414" stroke="#552d24" stroke-width="1.0" vector-effect="non-scaling-stroke" stroke-linejoin="miter">Cholesterol</text>
<text transform="translate(28.76,879.00) scale(0.7245,1)" font-weight="bold" font-size="53.05" letter-spacing="3.414" stroke="#552d24" stroke-width="1.0" vector-effect="non-scaling-stroke" stroke-linejoin="miter">Cholesterol</text>
<text transform="translate(513.98,876.95) scale(0.8022,1)" font-weight="normal" font-size="53.78" letter-spacing="3.220" stroke="#fff" stroke-width="0.5" vector-effect="non-scaling-stroke" style="fill:#4b251e">20mg</text>
<text transform="translate(853.49,876.95) scale(0.7971,1)" font-weight="normal" font-size="53.78" letter-spacing="3.229" stroke="#fff" stroke-width="0.5" vector-effect="non-scaling-stroke" style="fill:#4b251e">80mg</text>
<text transform="translate(756.76,879.95) scale(0.9700,1)" font-weight="bold" font-size="50.15" letter-spacing="0.505" stroke="#3a1512" stroke-width="0.7" vector-effect="non-scaling-stroke" stroke-linejoin="miter">7<tspan font-weight="normal">%</tspan></text>
<text transform="translate(1079.69,879.95) scale(0.9532,1)" font-weight="bold" font-size="50.15" letter-spacing="0.514" stroke="#3a1512" stroke-width="0.7" vector-effect="non-scaling-stroke" stroke-linejoin="miter">27<tspan font-weight="normal">%</tspan></text>
<text transform="translate(26.43,942.80) scale(0.7033,1)" font-weight="bold" font-size="53.05" letter-spacing="3.671" stroke="#552d24" stroke-width="1.0" vector-effect="non-scaling-stroke" stroke-linejoin="miter">Sodium</text>
<text transform="translate(27.10,942.80) scale(0.7033,1)" font-weight="bold" font-size="53.05" letter-spacing="3.671" stroke="#552d24" stroke-width="1.0" vector-effect="non-scaling-stroke" stroke-linejoin="miter">Sodium</text>
<text transform="translate(27.77,942.80) scale(0.7033,1)" font-weight="bold" font-size="53.05" letter-spacing="3.671" stroke="#552d24" stroke-width="1.0" vector-effect="non-scaling-stroke" stroke-linejoin="miter">Sodium</text>
<text transform="translate(28.44,942.80) scale(0.7033,1)" font-weight="bold" font-size="53.05" letter-spacing="3.671" stroke="#552d24" stroke-width="1.0" vector-effect="non-scaling-stroke" stroke-linejoin="miter">Sodium</text>
<text transform="translate(29.11,942.80) scale(0.7033,1)" font-weight="bold" font-size="53.05" letter-spacing="3.671" stroke="#552d24" stroke-width="1.0" vector-effect="non-scaling-stroke" stroke-linejoin="miter">Sodium</text>
<text transform="translate(513.98,942.05) scale(0.8022,1)" font-weight="normal" font-size="53.78" letter-spacing="3.220" stroke="#fff" stroke-width="0.5" vector-effect="non-scaling-stroke" style="fill:#4b251e">20mg</text>
<text transform="translate(853.49,942.05) scale(0.7971,1)" font-weight="normal" font-size="53.78" letter-spacing="3.229" stroke="#fff" stroke-width="0.5" vector-effect="non-scaling-stroke" style="fill:#4b251e">80mg</text>
<text transform="translate(758.78,944.95) scale(0.9417,1)" font-weight="bold" font-size="50.15" letter-spacing="0.520" stroke="#3a1512" stroke-width="0.7" vector-effect="non-scaling-stroke" stroke-linejoin="miter">1<tspan font-weight="normal">%</tspan></text>
<text transform="translate(1106.24,944.95) scale(0.9604,1)" font-weight="bold" font-size="50.15" letter-spacing="0.510" stroke="#3a1512" stroke-width="0.7" vector-effect="non-scaling-stroke" stroke-linejoin="miter">3<tspan font-weight="normal">%</tspan></text>
<text transform="translate(27.54,1007.60) scale(0.7770,1)" font-weight="bold" font-size="53.05" letter-spacing="2.840" stroke="#552d24" stroke-width="1.0" vector-effect="non-scaling-stroke" stroke-linejoin="miter">Total</text>
<text transform="translate(28.61,1007.60) scale(0.7770,1)" font-weight="bold" font-size="53.05" letter-spacing="2.840" stroke="#552d24" stroke-width="1.0" vector-effect="non-scaling-stroke" stroke-linejoin="miter">Total</text>
<text transform="translate(29.69,1007.60) scale(0.7770,1)" font-weight="bold" font-size="53.05" letter-spacing="2.840" stroke="#552d24" stroke-width="1.0" vector-effect="non-scaling-stroke" stroke-linejoin="miter">Total</text>
<text transform="translate(146.75,1007.60) scale(0.7118,1)" font-weight="bold" font-size="53.05" letter-spacing="3.566" stroke="#552d24" stroke-width="1.0" vector-effect="non-scaling-stroke" stroke-linejoin="miter">Carbohydrate</text>
<text transform="translate(147.41,1007.60) scale(0.7118,1)" font-weight="bold" font-size="53.05" letter-spacing="3.566" stroke="#552d24" stroke-width="1.0" vector-effect="non-scaling-stroke" stroke-linejoin="miter">Carbohydrate</text>
<text transform="translate(148.06,1007.60) scale(0.7118,1)" font-weight="bold" font-size="53.05" letter-spacing="3.566" stroke="#552d24" stroke-width="1.0" vector-effect="non-scaling-stroke" stroke-linejoin="miter">Carbohydrate</text>
<text transform="translate(148.72,1007.60) scale(0.7118,1)" font-weight="bold" font-size="53.05" letter-spacing="3.566" stroke="#552d24" stroke-width="1.0" vector-effect="non-scaling-stroke" stroke-linejoin="miter">Carbohydrate</text>
<text transform="translate(149.38,1007.60) scale(0.7118,1)" font-weight="bold" font-size="53.05" letter-spacing="3.566" stroke="#552d24" stroke-width="1.0" vector-effect="non-scaling-stroke" stroke-linejoin="miter">Carbohydrate</text>
<text transform="translate(515.03,1006.55) scale(0.7867,1)" font-weight="normal" font-size="53.78" letter-spacing="3.092" stroke="#fff" stroke-width="0.5" vector-effect="non-scaling-stroke" style="fill:#4b251e">13g</text>
<text transform="translate(853.65,1006.55) scale(0.7885,1)" font-weight="normal" font-size="53.78" letter-spacing="3.165" stroke="#fff" stroke-width="0.5" vector-effect="non-scaling-stroke" style="fill:#4b251e">51g</text>
<text transform="translate(757.47,1010.25) scale(0.9601,1)" font-weight="bold" font-size="50.15" letter-spacing="0.510" stroke="#3a1512" stroke-width="0.7" vector-effect="non-scaling-stroke" stroke-linejoin="miter">5<tspan font-weight="normal">%</tspan></text>
<text transform="translate(1081.91,1010.25) scale(0.9309,1)" font-weight="bold" font-size="50.15" letter-spacing="0.526" stroke="#3a1512" stroke-width="0.7" vector-effect="non-scaling-stroke" stroke-linejoin="miter">19<tspan font-weight="normal">%</tspan></text>
<text transform="translate(73.39,1073.35) scale(0.7282,1)" font-weight="normal" font-size="54.51" letter-spacing="2.108" stroke="#fff" stroke-width="0.5" vector-effect="non-scaling-stroke" style="fill:#4b251e">Dietary</text>
<text transform="translate(225.96,1073.35) scale(0.7359,1)" font-weight="normal" font-size="54.51" letter-spacing="2.235" stroke="#fff" stroke-width="0.5" vector-effect="non-scaling-stroke" style="fill:#4b251e">Fiber</text>
<text transform="translate(514.53,1072.25) scale(0.7896,1)" font-weight="normal" font-size="53.78" letter-spacing="4.087" stroke="#fff" stroke-width="0.5" vector-effect="non-scaling-stroke" style="fill:#4b251e">3g</text>
<text transform="translate(855.18,1072.25) scale(0.7732,1)" font-weight="normal" font-size="53.78" letter-spacing="3.092" stroke="#fff" stroke-width="0.5" vector-effect="non-scaling-stroke" style="fill:#4b251e">13g</text>
<text transform="translate(734.57,1074.95) scale(0.9424,1)" font-weight="bold" font-size="50.15" letter-spacing="0.520" stroke="#3a1512" stroke-width="0.7" vector-effect="non-scaling-stroke" stroke-linejoin="miter">11<tspan font-weight="normal">%</tspan></text>
<text transform="translate(1079.63,1074.95) scale(0.9539,1)" font-weight="bold" font-size="50.15" letter-spacing="0.514" stroke="#3a1512" stroke-width="0.7" vector-effect="non-scaling-stroke" stroke-linejoin="miter">45<tspan font-weight="normal">%</tspan></text>
<text transform="translate(72.50,1142.15) scale(0.8161,1)" font-weight="normal" font-size="54.51" letter-spacing="2.075" stroke="#fff" stroke-width="0.5" vector-effect="non-scaling-stroke" style="fill:#4b251e">Total</text>
<text transform="translate(184.49,1142.15) scale(0.7512,1)" font-weight="normal" font-size="54.51" letter-spacing="2.533" stroke="#fff" stroke-width="0.5" vector-effect="non-scaling-stroke" style="fill:#4b251e">Sugars</text>
<text transform="translate(515.03,1142.25) scale(0.7867,1)" font-weight="normal" font-size="53.78" letter-spacing="3.092" stroke="#fff" stroke-width="0.5" vector-effect="non-scaling-stroke" style="fill:#4b251e">10g</text>
<text transform="translate(853.74,1142.25) scale(0.7875,1)" font-weight="normal" font-size="53.78" letter-spacing="3.169" stroke="#fff" stroke-width="0.5" vector-effect="non-scaling-stroke" style="fill:#4b251e">36g</text>
<text transform="translate(109.67,1210.85) scale(0.7615,1)" font-weight="normal" font-size="54.51" letter-spacing="1.953" stroke="#fff" stroke-width="0.5" vector-effect="non-scaling-stroke" style="fill:#4b251e">Inc.</text>
<text transform="translate(194.67,1210.85) scale(0.7127,1)" font-weight="normal" font-size="54.51" letter-spacing="2.897" stroke="#fff" stroke-width="0.5" vector-effect="non-scaling-stroke" style="fill:#4b251e">Added</text>
<text transform="translate(328.97,1210.85) scale(0.7186,1)" font-weight="normal" font-size="54.51" letter-spacing="2.533" stroke="#fff" stroke-width="0.5" vector-effect="non-scaling-stroke" style="fill:#4b251e">Sugars</text>
<text transform="translate(513.94,1210.75) scale(0.8000,1)" font-weight="normal" font-size="53.78" letter-spacing="4.034" stroke="#fff" stroke-width="0.5" vector-effect="non-scaling-stroke" style="fill:#4b251e">7g</text>
<text transform="translate(853.20,1210.75) scale(0.7937,1)" font-weight="normal" font-size="53.78" letter-spacing="3.144" stroke="#fff" stroke-width="0.5" vector-effect="non-scaling-stroke" style="fill:#4b251e">26g</text>
<text transform="translate(731.87,1210.65) scale(0.9434,1)" font-weight="bold" font-size="50.15" letter-spacing="0.519" stroke="#3a1512" stroke-width="0.7" vector-effect="non-scaling-stroke" stroke-linejoin="miter">13<tspan font-weight="normal">%</tspan></text>
<text transform="translate(1079.88,1210.65) scale(0.9513,1)" font-weight="bold" font-size="50.15" letter-spacing="0.515" stroke="#3a1512" stroke-width="0.7" vector-effect="non-scaling-stroke" stroke-linejoin="miter">52<tspan font-weight="normal">%</tspan></text>
<text transform="translate(26.39,1275.75) scale(0.7366,1)" font-weight="bold" font-size="53.05" letter-spacing="3.275" stroke="#552d24" stroke-width="1.0" vector-effect="non-scaling-stroke" stroke-linejoin="miter">Protein</text>
<text transform="translate(27.00,1275.75) scale(0.7366,1)" font-weight="bold" font-size="53.05" letter-spacing="3.275" stroke="#552d24" stroke-width="1.0" vector-effect="non-scaling-stroke" stroke-linejoin="miter">Protein</text>
<text transform="translate(27.61,1275.75) scale(0.7366,1)" font-weight="bold" font-size="53.05" letter-spacing="3.275" stroke="#552d24" stroke-width="1.0" vector-effect="non-scaling-stroke" stroke-linejoin="miter">Protein</text>
<text transform="translate(28.22,1275.75) scale(0.7366,1)" font-weight="bold" font-size="53.05" letter-spacing="3.275" stroke="#552d24" stroke-width="1.0" vector-effect="non-scaling-stroke" stroke-linejoin="miter">Protein</text>
<text transform="translate(28.83,1275.75) scale(0.7366,1)" font-weight="bold" font-size="53.05" letter-spacing="3.275" stroke="#552d24" stroke-width="1.0" vector-effect="non-scaling-stroke" stroke-linejoin="miter">Protein</text>
<text transform="translate(513.99,1275.25) scale(0.7993,1)" font-weight="normal" font-size="53.78" letter-spacing="4.038" stroke="#fff" stroke-width="0.5" vector-effect="non-scaling-stroke" style="fill:#4b251e">2g</text>
<text transform="translate(853.33,1275.25) scale(0.8017,1)" font-weight="normal" font-size="53.78" letter-spacing="4.051" stroke="#fff" stroke-width="0.5" vector-effect="non-scaling-stroke" style="fill:#4b251e">9g</text>
<text transform="translate(757.62,1277.45) scale(0.9579,1)" font-weight="bold" font-size="50.15" letter-spacing="0.512" stroke="#3a1512" stroke-width="0.7" vector-effect="non-scaling-stroke" stroke-linejoin="miter">4<tspan font-weight="normal">%</tspan></text>
<text transform="translate(1081.91,1277.45) scale(0.9309,1)" font-weight="bold" font-size="50.15" letter-spacing="0.526" stroke="#3a1512" stroke-width="0.7" vector-effect="non-scaling-stroke" stroke-linejoin="miter">17<tspan font-weight="normal">%</tspan></text>
<text transform="translate(26.46,1377.45) scale(0.7767,1)" font-weight="normal" font-size="54.51" letter-spacing="2.220" stroke="#fff" stroke-width="0.5" vector-effect="non-scaling-stroke" style="fill:#4b251e">Vitamin</text>
<text transform="translate(190.94,1377.45) scale(0.7636,1)" font-weight="normal" font-size="54.51" stroke="#fff" stroke-width="0.5" vector-effect="non-scaling-stroke" style="fill:#4b251e">D</text>
<text transform="translate(514.50,1375.25) scale(0.7836,1)" font-weight="normal" font-size="53.78" letter-spacing="3.159" stroke="#fff" stroke-width="0.5" vector-effect="non-scaling-stroke" style="fill:#4b251e">0mcg</text>
<text transform="translate(853.68,1375.25) scale(0.7969,1)" font-weight="normal" font-size="53.78" letter-spacing="3.159" stroke="#fff" stroke-width="0.5" vector-effect="non-scaling-stroke" style="fill:#4b251e">0mcg</text>
<text transform="translate(763.31,1375.45) scale(0.7811,1)" font-weight="normal" font-size="53.78" letter-spacing="5.547" stroke="#fff" stroke-width="0.5" vector-effect="non-scaling-stroke" style="fill:#4b251e">0%</text>
<text transform="translate(1109.60,1375.45) scale(0.7849,1)" font-weight="normal" font-size="53.78" letter-spacing="5.547" stroke="#fff" stroke-width="0.5" vector-effect="non-scaling-stroke" style="fill:#4b251e">0%</text>
<text transform="translate(26.15,1441.75) scale(0.7582,1)" font-weight="normal" font-size="54.51" letter-spacing="2.390" stroke="#fff" stroke-width="0.5" vector-effect="non-scaling-stroke" style="fill:#4b251e">Calcium</text>
<text transform="translate(513.97,1441.05) scale(0.7910,1)" font-weight="normal" font-size="53.78" letter-spacing="3.218" stroke="#fff" stroke-width="0.5" vector-effect="non-scaling-stroke" style="fill:#4b251e">70mg</text>
<text transform="translate(853.20,1441.05) scale(0.7964,1)" font-weight="normal" font-size="53.78" letter-spacing="2.978" stroke="#fff" stroke-width="0.5" vector-effect="non-scaling-stroke" style="fill:#4b251e">280mg</text>
<text transform="translate(763.21,1441.75) scale(0.7827,1)" font-weight="normal" font-size="53.78" letter-spacing="5.500" stroke="#fff" stroke-width="0.5" vector-effect="non-scaling-stroke" style="fill:#4b251e">6%</text>
<text transform="translate(1083.61,1441.75) scale(0.7918,1)" font-weight="normal" font-size="53.78" letter-spacing="3.876" stroke="#fff" stroke-width="0.5" vector-effect="non-scaling-stroke" style="fill:#4b251e">20%</text>
<text transform="translate(26.67,1507.75) scale(0.8118,1)" font-weight="normal" font-size="54.51" letter-spacing="2.141" stroke="#fff" stroke-width="0.5" vector-effect="non-scaling-stroke" style="fill:#4b251e">Iron</text>
<text transform="translate(514.50,1507.05) scale(0.7867,1)" font-weight="normal" font-size="53.78" letter-spacing="2.707" stroke="#fff" stroke-width="0.5" vector-effect="non-scaling-stroke" style="fill:#4b251e">0.4mg</text>
<text transform="translate(853.49,1507.05) scale(0.7964,1)" font-weight="normal" font-size="53.78" letter-spacing="2.670" stroke="#fff" stroke-width="0.5" vector-effect="non-scaling-stroke" style="fill:#4b251e">1.7mg</text>
<text transform="translate(762.82,1507.05) scale(0.7875,1)" font-weight="normal" font-size="53.78" letter-spacing="5.502" stroke="#fff" stroke-width="0.5" vector-effect="non-scaling-stroke" style="fill:#4b251e">2%</text>
<text transform="translate(1085.57,1507.05) scale(0.7752,1)" font-weight="normal" font-size="53.78" letter-spacing="3.824" stroke="#fff" stroke-width="0.5" vector-effect="non-scaling-stroke" style="fill:#4b251e">10%</text>
<text transform="translate(26.04,1573.35) scale(0.7729,1)" font-weight="normal" font-size="54.51" letter-spacing="2.318" stroke="#fff" stroke-width="0.5" vector-effect="non-scaling-stroke" style="fill:#4b251e">Potassium</text>
<text transform="translate(514.31,1573.05) scale(0.7884,1)" font-weight="normal" font-size="53.78" letter-spacing="3.229" stroke="#fff" stroke-width="0.5" vector-effect="non-scaling-stroke" style="fill:#4b251e">80mg</text>
<text transform="translate(853.73,1573.05) scale(0.7931,1)" font-weight="normal" font-size="53.78" letter-spacing="2.990" stroke="#fff" stroke-width="0.5" vector-effect="non-scaling-stroke" style="fill:#4b251e">310mg</text>
<text transform="translate(762.82,1572.95) scale(0.7875,1)" font-weight="normal" font-size="53.78" letter-spacing="5.502" stroke="#fff" stroke-width="0.5" vector-effect="non-scaling-stroke" style="fill:#4b251e">2%</text>
<text transform="translate(1109.09,1572.95) scale(0.7916,1)" font-weight="normal" font-size="53.78" letter-spacing="5.500" stroke="#fff" stroke-width="0.5" vector-effect="non-scaling-stroke" style="fill:#4b251e">6%</text>
<text transform="translate(28.96,1644.55) scale(0.7005,1)" font-weight="normal" font-size="43.17" letter-spacing="2.222" stroke="#fff" stroke-width="0.3" vector-effect="non-scaling-stroke" style="fill:#3f1c17">*The</text>
<text transform="translate(108.12,1644.55) scale(0.7338,1)" font-weight="normal" font-size="43.17" stroke="#fff" stroke-width="0.3" vector-effect="non-scaling-stroke" style="fill:#3f1c17">%</text>
<text transform="translate(146.41,1644.55) scale(0.6882,1)" font-weight="normal" font-size="43.17" letter-spacing="1.737" stroke="#fff" stroke-width="0.3" vector-effect="non-scaling-stroke" style="fill:#3f1c17">Daily</text>
<text transform="translate(227.72,1644.55) scale(0.6841,1)" font-weight="normal" font-size="43.17" letter-spacing="1.977" stroke="#fff" stroke-width="0.3" vector-effect="non-scaling-stroke" style="fill:#3f1c17">Value</text>
<text transform="translate(315.99,1644.55) scale(0.6951,1)" font-weight="normal" font-size="43.17" letter-spacing="2.091" stroke="#fff" stroke-width="0.3" vector-effect="non-scaling-stroke" style="fill:#3f1c17">(DV)</text>
<text transform="translate(393.00,1644.55) scale(0.6950,1)" font-weight="normal" font-size="43.17" letter-spacing="1.403" stroke="#fff" stroke-width="0.3" vector-effect="non-scaling-stroke" style="fill:#3f1c17">tells</text>
<text transform="translate(459.77,1644.55) scale(0.7161,1)" font-weight="normal" font-size="43.17" letter-spacing="2.507" stroke="#fff" stroke-width="0.3" vector-effect="non-scaling-stroke" style="fill:#3f1c17">you</text>
<text transform="translate(522.80,1644.55) scale(0.6864,1)" font-weight="normal" font-size="43.17" letter-spacing="2.871" stroke="#fff" stroke-width="0.3" vector-effect="non-scaling-stroke" style="fill:#3f1c17">how</text>
<text transform="translate(593.43,1644.55) scale(0.7050,1)" font-weight="normal" font-size="43.17" letter-spacing="2.505" stroke="#fff" stroke-width="0.3" vector-effect="non-scaling-stroke" style="fill:#3f1c17">much</text>
<text transform="translate(683.10,1644.55) scale(0.6266,1)" font-weight="normal" font-size="43.17" stroke="#fff" stroke-width="0.3" vector-effect="non-scaling-stroke" style="fill:#3f1c17">a</text>
<text transform="translate(707.76,1644.55) scale(0.7287,1)" font-weight="normal" font-size="43.17" letter-spacing="1.514" stroke="#fff" stroke-width="0.3" vector-effect="non-scaling-stroke" style="fill:#3f1c17">nutrient</text>
<text transform="translate(829.94,1644.55) scale(0.7299,1)" font-weight="normal" font-size="43.17" letter-spacing="2.100" stroke="#fff" stroke-width="0.3" vector-effect="non-scaling-stroke" style="fill:#3f1c17">in</text>
<text transform="translate(865.67,1644.55) scale(0.6447,1)" font-weight="normal" font-size="43.17" stroke="#fff" stroke-width="0.3" vector-effect="non-scaling-stroke" style="fill:#3f1c17">a</text>
<text transform="translate(891.60,1644.55) scale(0.7068,1)" font-weight="normal" font-size="43.17" letter-spacing="1.695" stroke="#fff" stroke-width="0.3" vector-effect="non-scaling-stroke" style="fill:#3f1c17">serving</text>
<text transform="translate(1006.56,1644.55) scale(0.7141,1)" font-weight="normal" font-size="43.17" letter-spacing="2.578" stroke="#fff" stroke-width="0.3" vector-effect="non-scaling-stroke" style="fill:#3f1c17">of</text>
<text transform="translate(1043.81,1644.55) scale(0.7257,1)" font-weight="normal" font-size="43.17" letter-spacing="2.022" stroke="#fff" stroke-width="0.3" vector-effect="non-scaling-stroke" style="fill:#3f1c17">food</text>
<text transform="translate(26.18,1684.75) scale(0.6926,1)" font-weight="normal" font-size="43.17" letter-spacing="1.563" stroke="#fff" stroke-width="0.3" vector-effect="non-scaling-stroke" style="fill:#3f1c17">contributes</text>
<text transform="translate(195.43,1684.75) scale(0.6462,1)" font-weight="normal" font-size="43.17" letter-spacing="2.524" stroke="#fff" stroke-width="0.3" vector-effect="non-scaling-stroke" style="fill:#3f1c17">to</text>
<text transform="translate(228.29,1684.75) scale(0.5771,1)" font-weight="normal" font-size="43.17" stroke="#fff" stroke-width="0.3" vector-effect="non-scaling-stroke" style="fill:#3f1c17">a</text>
<text transform="translate(254.72,1684.75) scale(0.6242,1)" font-weight="normal" font-size="43.17" letter-spacing="1.635" stroke="#fff" stroke-width="0.3" vector-effect="non-scaling-stroke" style="fill:#3f1c17">daily</text>
<text transform="translate(326.73,1684.75) scale(0.6169,1)" font-weight="normal" font-size="43.17" letter-spacing="1.427" stroke="#fff" stroke-width="0.3" vector-effect="non-scaling-stroke" style="fill:#3f1c17">diet.</text>
<text transform="translate(394.38,1684.75) scale(0.6778,1)" font-weight="normal" font-size="43.17" letter-spacing="1.960" stroke="#fff" stroke-width="0.3" vector-effect="non-scaling-stroke" style="fill:#3f1c17">2,000</text>
<text transform="translate(485.04,1684.75) scale(0.6623,1)" font-weight="normal" font-size="43.17" letter-spacing="1.563" stroke="#fff" stroke-width="0.3" vector-effect="non-scaling-stroke" style="fill:#3f1c17">calories</text>
<text transform="translate(601.78,1684.75) scale(0.5816,1)" font-weight="normal" font-size="43.17" stroke="#fff" stroke-width="0.3" vector-effect="non-scaling-stroke" style="fill:#3f1c17">a</text>
<text transform="translate(627.77,1684.75) scale(0.5948,1)" font-weight="normal" font-size="43.17" letter-spacing="2.548" stroke="#fff" stroke-width="0.3" vector-effect="non-scaling-stroke" style="fill:#3f1c17">day</text>
<text transform="translate(683.97,1684.75) scale(0.5116,1)" font-weight="normal" font-size="43.17" letter-spacing="2.012" stroke="#fff" stroke-width="0.3" vector-effect="non-scaling-stroke" style="fill:#3f1c17">is</text>
<text transform="translate(710.86,1684.75) scale(0.7112,1)" font-weight="normal" font-size="43.17" letter-spacing="2.208" stroke="#fff" stroke-width="0.3" vector-effect="non-scaling-stroke" style="fill:#3f1c17">used</text>
<text transform="translate(792.47,1684.75) scale(0.6181,1)" font-weight="normal" font-size="43.17" letter-spacing="1.846" stroke="#fff" stroke-width="0.3" vector-effect="non-scaling-stroke" style="fill:#3f1c17">for</text>
<text transform="translate(839.65,1684.75) scale(0.6631,1)" font-weight="normal" font-size="43.17" letter-spacing="1.747" stroke="#fff" stroke-width="0.3" vector-effect="non-scaling-stroke" style="fill:#3f1c17">general</text>
<text transform="translate(952.24,1684.75) scale(0.7025,1)" font-weight="normal" font-size="43.17" letter-spacing="1.391" stroke="#fff" stroke-width="0.3" vector-effect="non-scaling-stroke" style="fill:#3f1c17">nutrition</text>
<text transform="translate(1077.03,1684.75) scale(0.6667,1)" font-weight="normal" font-size="43.17" letter-spacing="1.643" stroke="#fff" stroke-width="0.3" vector-effect="non-scaling-stroke" style="fill:#3f1c17">advice.</text>
</svg>
</body></html>
